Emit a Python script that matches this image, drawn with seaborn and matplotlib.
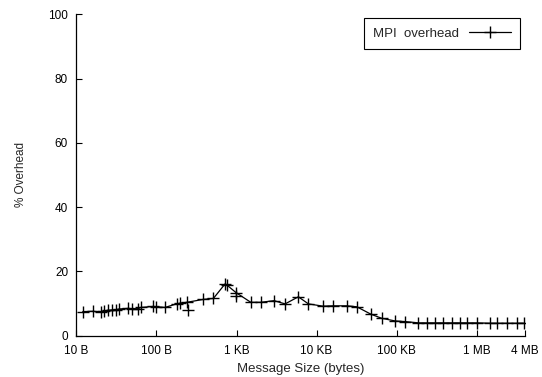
import matplotlib

matplotlib.use("Agg")

import matplotlib.pyplot as plt
import pandas as pd
import seaborn as sns

# message sizes (bytes) and measured MPI overhead (%)
msg_bytes = [
    12, 16, 20, 22, 25, 28, 31, 34,
    44, 49, 59, 64, 91, 98, 128, 178, 195, 240,
    385, 514, 718, 754, 986,
    1505, 2007, 2944, 4040, 5922, 7899,
    11953, 15939, 23850, 31800, 47600, 65300, 95500,
    127700, 187300, 238500, 302000, 384500, 489800, 622000, 754000,
    1006000, 1475000, 1789000, 2385000, 3180000, 3846000,
]
overhead_pct = [
    7.5, 7.6, 7.4, 7.7, 7.9, 8.0, 8.1, 8.3,
    8.5, 8.4, 8.4, 8.8, 9.1, 9.0, 8.8, 9.9, 10.1, 10.4,
    11.3, 11.6, 16.1, 15.8, 13.4,
    10.4, 10.4, 10.9, 9.9, 12.1, 9.9,
    9.2, 9.3, 9.3, 9.0, 6.7, 5.4, 4.6,
    4.4, 4.0, 4.0, 4.0, 4.0, 4.0, 4.0, 4.0,
    4.0, 3.9, 3.9, 3.9, 3.9, 3.9,
]

# repeated runs that fall off the main curve
extra_bytes = [250, 986]
extra_pct = [8.0, 12.3]

tick_bytes = [10, 100, 1000, 10000, 100000, 1000000, 4000000]
tick_labels = ["10 B", "100 B", "1 KB", "10 KB", "100 KB", "1 MB", "4 MB"]


def main() -> None:
    sns.set_theme(style="ticks")
    plt.rcParams["font.family"] = ["Liberation Sans", "DejaVu Sans"]
    plt.rcParams["font.size"] = 8.5
    plt.rcParams["xtick.direction"] = "in"
    plt.rcParams["ytick.direction"] = "in"

    df = pd.DataFrame({"bytes": msg_bytes, "overhead": overhead_pct})
    extra = pd.DataFrame({"bytes": extra_bytes, "overhead": extra_pct})

    fig = plt.figure(figsize=(5.42, 3.77), dpi=100)
    ax = fig.add_axes([0.141, 0.1095, 0.8275, 0.8528])

    sns.lineplot(
        data=df, x="bytes", y="overhead", ax=ax, color="black", linewidth=0.9,
        marker="+", markersize=8, markeredgewidth=1.0, markeredgecolor="black",
        label="MPI  overhead",
    )
    sns.scatterplot(
        data=extra, x="bytes", y="overhead", ax=ax, color="black",
        marker="+", s=64, linewidth=1.0, legend=False,
    )

    ax.set_xscale("log")
    ax.set_xlim(10, 4000000)
    ax.set_ylim(0, 100)
    ax.set_xticks(tick_bytes)
    ax.set_xticklabels(tick_labels)
    ax.minorticks_off()
    ax.set_yticks([0, 20, 40, 60, 80, 100])

    ax.tick_params(direction="in", length=4, width=0.8, colors="black",
                   labelsize=8.5)
    ax.tick_params(axis="x", pad=7)
    ax.tick_params(axis="y", pad=6)
    for side in ("top", "right"):
        ax.spines[side].set_visible(False)
    for side in ("left", "bottom"):
        ax.spines[side].set_linewidth(0.9)
        ax.spines[side].set_color("black")

    ax.set_xlabel("Message Size (bytes)", fontsize=9.5, labelpad=4)
    ax.set_ylabel("% Overhead", fontsize=8.5, labelpad=15)

    leg = ax.legend(loc="upper right", bbox_to_anchor=(0.989, 0.988),
                    borderaxespad=0, markerfirst=False, fancybox=False,
                    framealpha=1, edgecolor="black", fontsize=9.5,
                    handlelength=3.2, borderpad=0.7, handletextpad=0.7)
    leg.get_frame().set_linewidth(0.8)

    fig.savefig("out.png", dpi=100)
    plt.close(fig)


if __name__ == "__main__":
    main()
